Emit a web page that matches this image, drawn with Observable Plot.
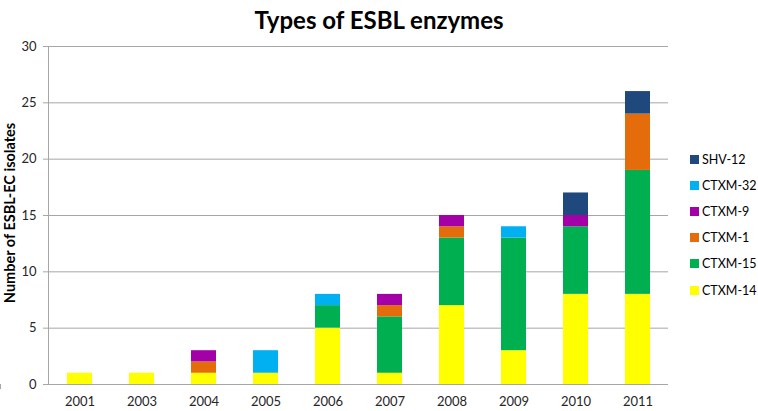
<!DOCTYPE html>
<html><head><meta charset="utf-8">
<script src="https://cdn.jsdelivr.net/npm/d3@7"></script>
<script src="https://cdn.jsdelivr.net/npm/@observablehq/plot@0.6"></script>
<style>
body{margin:0;background:#fff;font-family:Lato,"Open Sans",sans-serif}
#wrap{position:relative;width:758px;height:411px;overflow:hidden}
#title{height:34px;line-height:40px;text-align:center;font-weight:bold;font-size:24px;color:#000}
#legend{position:absolute;left:690px;top:146px;font-size:12.5px;color:#000;white-space:nowrap}
.item{display:flex;align-items:center;height:26.2px}
.sw{width:9px;height:9px;margin-right:3px}
#ylabel{position:absolute;left:9px;top:213px;transform:translate(-50%,-50%) rotate(-90deg);white-space:nowrap;font-weight:bold;font-size:14.5px;color:#000}
</style></head><body>
<div id="wrap"><div id="title">Types of ESBL enzymes</div><div id="chart"></div><div id="legend"></div><div id="ylabel">Number of ESBL-EC isolates</div></div>
<script>
const years = ["2001","2003","2004","2005","2006","2007","2008","2009","2010","2011"];
const series = ["CTXM-14","CTXM-15","CTXM-1","CTXM-9","CTXM-32","SHV-12"];
const colors = ["#ffff00","#00b050","#e46c0a","#a400a8","#00b0f0","#1f497d"];
const ctxm14 = [1,1,1,1,5,1,7,3,8,8];
const ctxm15 = [0,0,0,0,2,5,6,10,6,11];
const ctxm1  = [0,0,1,0,0,1,1,0,0,5];
const ctxm9  = [0,0,1,0,0,1,1,0,1,0];
const ctxm32 = [0,0,0,2,1,0,0,1,0,0];
const shv12  = [0,0,0,0,0,0,0,0,2,2];
const yTicks = [0,5,10,15,20,25,30];

const valuesBySeries = [ctxm14, ctxm15, ctxm1, ctxm9, ctxm32, shv12];
const rows = [];
series.forEach((s, si) => years.forEach((y, yi) => {
  if (valuesBySeries[si][yi] > 0) rows.push({year: y, series: s, value: valuesBySeries[si][yi]});
}));

const grid = "#a6a6a6";
const boundaryTicks = (index, scales, values, dimensions) => {
  const x = scales.x, y = scales.y;
  const step = x(years[1]) - x(years[0]);
  const bw = x.bandwidth;
  const y0 = y(0);
  const g = d3.create("svg:g").attr("stroke", grid).attr("stroke-width", 1);
  const xs = years.map(d => x(d) + bw / 2 - step / 2);
  xs.push(x(years[years.length - 1]) + bw / 2 + step / 2);
  xs.forEach(px => g.append("line").attr("x1", Math.round(px) + 0.5).attr("x2", Math.round(px) + 0.5).attr("y1", y0).attr("y2", y0 + 5));
  g.append("line").attr("x1", dimensions.marginLeft).attr("x2", dimensions.width - dimensions.marginRight).attr("y1", Math.round(y0) + 0.5).attr("y2", Math.round(y0) + 0.5);
  g.append("line").attr("x1", dimensions.marginLeft + 0.5).attr("x2", dimensions.marginLeft + 0.5).attr("y1", dimensions.marginTop).attr("y2", y0);
  return g.node();
};

const chart = Plot.plot({
  width: 758, height: 377,
  marginTop: 12, marginBottom: 27, marginLeft: 48, marginRight: 90,
  style: {fontSize: "13px", fontFamily: "Lato, 'Open Sans', sans-serif", color: "#262626", background: "#fff"},
  x: {domain: years, paddingInner: 0.6, paddingOuter: 0.3, label: null},
  y: {domain: [0, 30], label: null},
  color: {domain: series, range: colors},
  marks: [
    Plot.gridY(yTicks, {stroke: grid, strokeOpacity: 1}),
    Plot.barY(rows, Plot.stackY({x: "year", y: "value", fill: "series", order: series})),
    boundaryTicks,
    Plot.axisY(yTicks, {tickSize: 5, stroke: grid, tickPadding: 7, label: null, fill: "#262626"}),
    Plot.axisX({tickSize: 0, tickPadding: 12, label: null, fill: "#262626"})
  ]
});
document.getElementById("chart").appendChild(chart);

const legend = document.getElementById("legend");
series.slice().reverse().forEach(s => {
  const it = document.createElement("div"); it.className = "item";
  const sw = document.createElement("div"); sw.className = "sw"; sw.style.background = colors[series.indexOf(s)];
  const t = document.createElement("span"); t.textContent = s;
  it.appendChild(sw); it.appendChild(t); legend.appendChild(it);
});
</script>
</body></html>
